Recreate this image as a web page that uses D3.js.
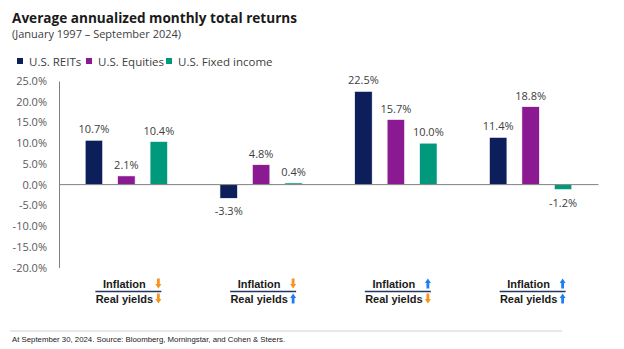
<!DOCTYPE html>
<html>
<head>
<meta charset="utf-8">
<script src="https://cdn.jsdelivr.net/npm/d3@7"></script>
<style>
  body { margin: 0; background: white; }
  svg { display: block; }
</style>
</head>
<body>
<svg id="chart"></svg>
<script>
  // DATA
  let scenarios = ["s1", "s2", "s3", "s4"]
  let inflationDir = ["down", "down", "up", "up"]
  let realYieldDir = ["down", "up", "down", "up"]
  let seriesNames = ["U.S. REITs", "U.S. Equities", "U.S. Fixed income"]
  let reits = [10.7, -3.3, 22.5, 11.4]
  let equities = [2.1, 4.8, 15.7, 18.8]
  let fixedIncome = [10.4, 0.4, 10.0, -1.2]
  let yTicks = [25, 20, 15, 10, 5, 0, -5, -10, -15, -20]

  let colors = ["#0c1f5b", "#8b1a92", "#00997b"]
  let arrowColors = { down: "#f7931e", up: "#1e7ff0" }

  let width = 624, height = 349
  let margin = { left: 59, right: 26, top: 81, bottom: 81 }

  let svg = d3.select("#chart").attr("width", width).attr("height", height)
    .style("font-family", "'Open Sans', sans-serif")

  // title
  svg.append("text").attr("x", 12).attr("y", 23)
    .attr("font-size", 13.6).attr("font-weight", "bold").attr("fill", "#1a1a1a")
    .text("Average annualized monthly total returns")
  svg.append("text").attr("x", 12).attr("y", 38)
    .attr("font-size", 11).attr("fill", "#404040")
    .text("(January 1997 \u2013 September 2024)")

  // legend
  let legendX = [17, 86, 166]
  seriesNames.forEach((name, i) => {
    svg.append("rect").attr("x", legendX[i]).attr("y", 58).attr("width", 6).attr("height", 6)
      .attr("fill", colors[i])
    svg.append("text").attr("x", legendX[i] + 12).attr("y", 65.5)
      .attr("font-size", 11.5).attr("fill", "#404040").text(name)
  })

  // scales
  let y = d3.scaleLinear().domain([-20, 25]).range([height - margin.bottom - 0.5, margin.top])
  let x0 = d3.scaleBand().domain(scenarios).range([margin.left, width - margin.right])
    .paddingInner(0.389).paddingOuter(0.1945)
  let x1 = d3.scaleBand().domain(seriesNames).range([0, x0.bandwidth()])
    .paddingInner(0.4615).paddingOuter(0)

  // y axis
  let yAxis = d3.axisLeft(y).tickValues(yTicks).tickSize(0).tickPadding(12)
    .tickFormat(d => d.toFixed(1) + "%")
  let yg = svg.append("g").attr("transform", `translate(${margin.left},0)`).call(yAxis)
  yg.select(".domain").attr("stroke", "#808080")
  yg.selectAll("text").attr("font-size", 11).attr("fill", "#595959")
    .attr("font-family", "'Open Sans', sans-serif")

  // bars
  let values = [reits, equities, fixedIncome]
  let rows = []
  scenarios.forEach((s, i) => {
    seriesNames.forEach((n, j) => rows.push({ scenario: s, series: n, value: values[j][i], color: colors[j] }))
  })

  let bars = svg.append("g")
  bars.selectAll("rect").data(rows).enter().append("rect")
    .attr("x", d => x0(d.scenario) + x1(d.series))
    .attr("width", x1.bandwidth())
    .attr("y", d => y(Math.max(0, d.value)))
    .attr("height", d => Math.abs(y(d.value) - y(0)))
    .attr("fill", d => d.color)
    .attr("stroke", "white").attr("stroke-width", 0.6)

  bars.selectAll("text").data(rows).enter().append("text")
    .attr("x", d => x0(d.scenario) + x1(d.series) + x1.bandwidth() / 2)
    .attr("y", d => d.value >= 0 ? y(d.value) - 7 : y(d.value) + 17)
    .attr("text-anchor", "middle").attr("font-size", 11).attr("fill", "#404040")
    .text(d => d.value.toFixed(1) + "%")

  // zero line
  svg.append("line").attr("x1", margin.left).attr("x2", width - margin.right + 0.5)
    .attr("y1", y(0)).attr("y2", y(0)).attr("stroke", "#808080").attr("stroke-width", 1)

  // category labels
  function arrow(g, cx, cy, dir) {
    // cy is vertical center of the arrow
    let s = dir === "up" ? -1 : 1
    let p = d3.path()
    p.moveTo(cx - 1.4, cy - s * 5)
    p.lineTo(cx + 1.4, cy - s * 5)
    p.lineTo(cx + 1.4, cy + s * 0.5)
    p.lineTo(cx + 3, cy + s * 0.5)
    p.lineTo(cx, cy + s * 5)
    p.lineTo(cx - 3, cy + s * 0.5)
    p.lineTo(cx - 1.4, cy + s * 0.5)
    p.closePath()
    g.append("path").attr("d", p.toString()).attr("fill", arrowColors[dir])
  }

  scenarios.forEach((s, i) => {
    let cx = x0(s) + x0.bandwidth() / 2
    let g = svg.append("g").attr("font-family", "'Liberation Sans', Arial, sans-serif")
      .attr("font-weight", "bold").attr("font-size", 11).attr("fill", "#1a1a1a")
    g.append("text").attr("x", cx - 2).attr("y", 288).attr("text-anchor", "middle").text("Inflation")
    arrow(g, cx + 32, 283.5, inflationDir[i])
    g.append("line").attr("x1", cx - 31).attr("x2", cx + 35).attr("y1", 291.5).attr("y2", 291.5)
      .attr("stroke", "#1f3864").attr("stroke-width", 1.3)
    g.append("text").attr("x", cx - 2).attr("y", 303).attr("text-anchor", "middle").text("Real yields")
    arrow(g, cx + 32, 298.5, realYieldDir[i])
  })

  // footer
  svg.append("line").attr("x1", 10).attr("x2", 562).attr("y1", 331).attr("y2", 331)
    .attr("stroke", "#d0d0d0").attr("stroke-width", 1)
  svg.append("text").attr("x", 12).attr("y", 342)
    .attr("font-family", "'Liberation Sans', Arial, sans-serif").attr("font-size", 7.8).attr("fill", "#1a1a1a")
    .text("At September 30, 2024. Source: Bloomberg, Morningstar, and Cohen & Steers.")
</script>
</body>
</html>
